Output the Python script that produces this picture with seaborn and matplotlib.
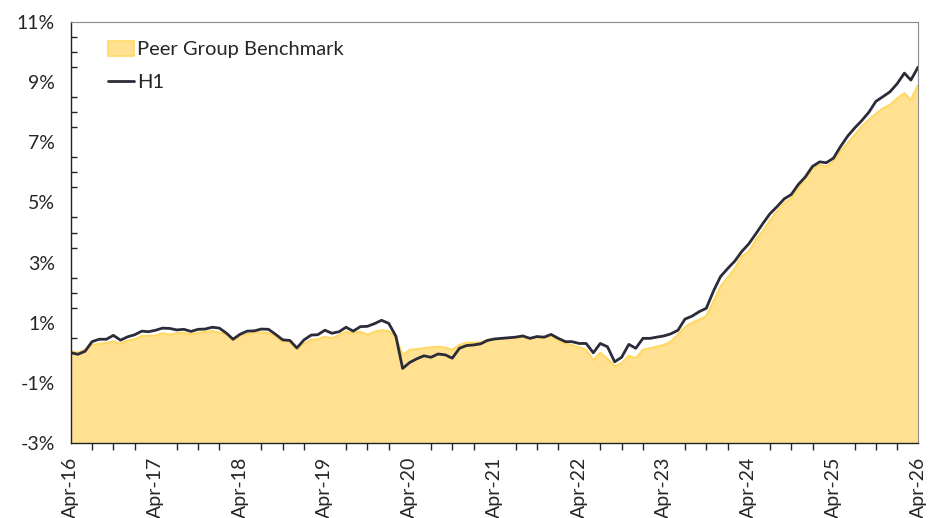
import numpy as np
import pandas as pd
import matplotlib
matplotlib.use("Agg")
import matplotlib.pyplot as plt
import matplotlib.dates as mdates
from matplotlib.ticker import MultipleLocator, FuncFormatter
from matplotlib.patches import Patch
from matplotlib.lines import Line2D
import seaborn as sns

# monthly values, Apr-16 .. Apr-26 (in %)
h1 = [
    0.00, -0.05, 0.05, 0.37, 0.45, 0.45, 0.58, 0.42, 0.53, 0.60, 0.72, 0.70,
    0.75, 0.82, 0.81, 0.76, 0.78, 0.71, 0.78, 0.79, 0.85, 0.82, 0.65, 0.45,
    0.62, 0.72, 0.73, 0.79, 0.78, 0.61, 0.43, 0.41, 0.16, 0.43, 0.59, 0.60,
    0.75, 0.65, 0.70, 0.85, 0.72, 0.87, 0.88, 0.97, 1.08, 0.98, 0.55, -0.52,
    -0.32, -0.20, -0.10, -0.15, -0.04, -0.07, -0.18, 0.15, 0.24, 0.26, 0.30, 0.41,
    0.46, 0.48, 0.50, 0.52, 0.56, 0.48, 0.54, 0.52, 0.61, 0.48, 0.37, 0.37,
    0.31, 0.31, 0.00, 0.31, 0.20, -0.30, -0.15, 0.28, 0.15, 0.48, 0.48, 0.52,
    0.56, 0.63, 0.75, 1.12, 1.22, 1.37, 1.48, 2.05, 2.53, 2.80, 3.05, 3.36,
    3.62, 3.95, 4.30, 4.62, 4.86, 5.12, 5.26, 5.60, 5.85, 6.20, 6.35, 6.32,
    6.47, 6.85, 7.20, 7.47, 7.72, 8.00, 8.36, 8.52, 8.68, 8.95, 9.30, 9.07,
    9.50,
]
peer = [
    0.05, 0.00, 0.10, 0.26, 0.30, 0.32, 0.38, 0.30, 0.40, 0.45, 0.56, 0.56,
    0.57, 0.65, 0.60, 0.65, 0.66, 0.61, 0.66, 0.70, 0.72, 0.67, 0.62, 0.42,
    0.56, 0.62, 0.66, 0.68, 0.65, 0.53, 0.37, 0.37, 0.12, 0.30, 0.43, 0.45,
    0.53, 0.48, 0.58, 0.70, 0.65, 0.70, 0.60, 0.70, 0.75, 0.72, 0.50, -0.07,
    0.10, 0.12, 0.15, 0.18, 0.20, 0.17, 0.10, 0.26, 0.33, 0.33, 0.35, 0.42,
    0.45, 0.47, 0.48, 0.50, 0.53, 0.46, 0.52, 0.50, 0.56, 0.40, 0.31, 0.25,
    0.18, 0.10, -0.25, 0.00, -0.20, -0.45, -0.35, -0.10, -0.18, 0.10, 0.15, 0.20,
    0.26, 0.37, 0.60, 0.85, 1.00, 1.10, 1.22, 1.70, 2.20, 2.50, 2.80, 3.20,
    3.36, 3.75, 4.05, 4.40, 4.70, 4.97, 5.14, 5.47, 5.80, 6.12, 6.24, 6.19,
    6.35, 6.69, 6.97, 7.24, 7.52, 7.75, 7.95, 8.13, 8.24, 8.46, 8.63, 8.41,
    8.90,
]
dates = pd.date_range("2016-04-01", periods=len(h1), freq="MS")
y_ticks = [-3, -1, 1, 3, 5, 7, 9, 11]

df = pd.DataFrame({"date": dates, "H1": h1, "Peer Group Benchmark": peer})

sns.set_style("white")
plt.rcParams["font.family"] = ["Lato", "DejaVu Sans"]

fill_col = "#FFE191"
edge_col = "#FFD966"
line_col = "#2B2B3A"

fig, ax = plt.subplots(figsize=(9.33, 5.18), dpi=100)
fig.subplots_adjust(left=0.076, right=0.984, top=0.9575, bottom=0.1448)

ax.fill_between(df["date"], df["Peer Group Benchmark"], y_ticks[0],
                color=fill_col, linewidth=0)
sns.lineplot(data=df, x="date", y="Peer Group Benchmark", ax=ax,
             color=edge_col, linewidth=1.6)
sns.lineplot(data=df, x="date", y="H1", ax=ax, color=line_col, linewidth=2.0)

ax.set_xlim(dates[0], dates[-1])
ax.set_ylim(y_ticks[0], y_ticks[-1])
ax.set_yticks(y_ticks)
ax.yaxis.set_major_formatter(FuncFormatter(lambda v, p: f"{v:.0f}%"))
ax.yaxis.set_minor_locator(MultipleLocator(0.5))
ax.xaxis.set_major_locator(mdates.MonthLocator(bymonth=4))
ax.xaxis.set_major_formatter(mdates.DateFormatter("%b-%y"))
ax.xaxis.set_minor_locator(mdates.MonthLocator(bymonth=[1, 7, 10]))
ax.set_xlabel("")
ax.set_ylabel("")

plt.setp(ax.get_xticklabels(), rotation=90)
ax.tick_params(axis="both", which="major", labelsize=14, color="#222222")
ax.tick_params(axis="y", which="major", length=8, width=1, direction="out")
ax.tick_params(axis="y", which="minor", length=4, width=1, direction="in", left=True)
ax.tick_params(axis="x", which="major", length=6, width=1, direction="out", pad=4)
ax.tick_params(axis="x", which="minor", length=5, width=1, direction="out", bottom=True)

for side in ["left", "bottom"]:
    ax.spines[side].set_color("#222222")
    ax.spines[side].set_linewidth(1.0)
for side in ["top", "right"]:
    ax.spines[side].set_color("#8c8c8c")
    ax.spines[side].set_linewidth(0.8)

handles = [
    Patch(facecolor=fill_col, edgecolor=edge_col, linewidth=1.2),
    Line2D([0], [0], color=line_col, linewidth=2.0),
]
ax.legend(handles, ["Peer Group Benchmark", "H1"], loc="upper left",
          bbox_to_anchor=(0.034, 0.975), frameon=False, fontsize=14.5,
          handlelength=1.3, handleheight=0.8, handletextpad=0.15,
          labelspacing=0.75, borderaxespad=0)

fig.savefig("out.png", dpi=100)
